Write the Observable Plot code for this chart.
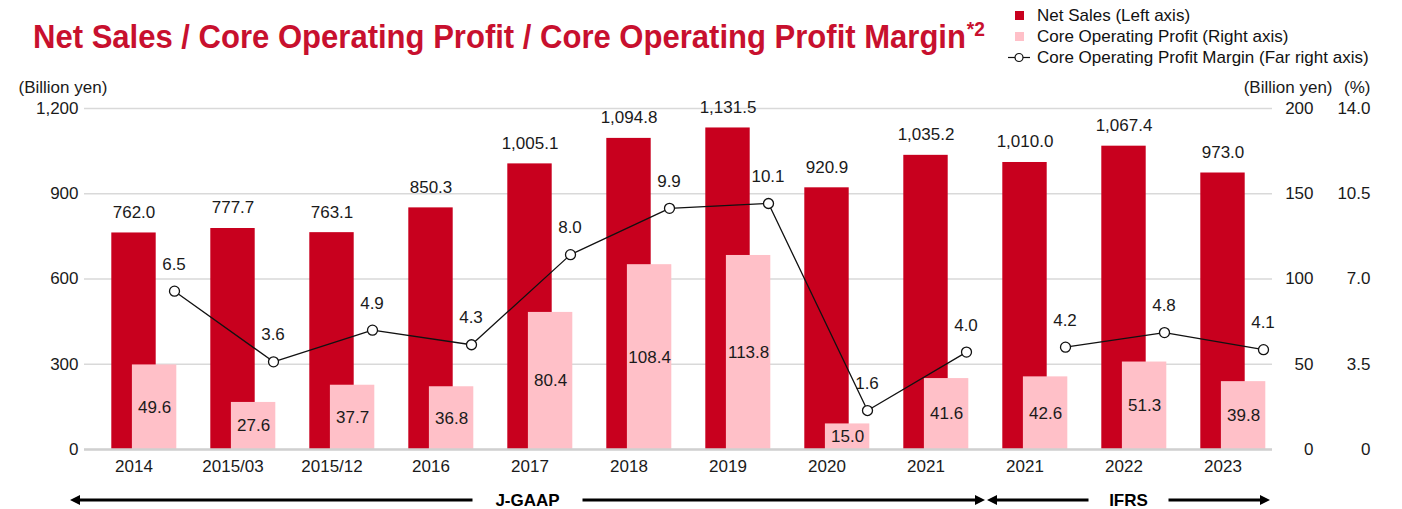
<!DOCTYPE html>
<html>
<head>
<meta charset="utf-8">
<script src="https://cdn.jsdelivr.net/npm/d3@7"></script>
<script src="https://cdn.jsdelivr.net/npm/@observablehq/plot@0.6"></script>
<style>
  body { margin: 0; background: #fff; font-family: "Liberation Sans", Arial, sans-serif; }
  #wrap { position: relative; width: 1402px; height: 509px; overflow: hidden; }
  #title { position: absolute; left: 33px; top: 16px; font-size: 34px; font-weight: bold; color: #c8102e;
           white-space: nowrap; transform-origin: 0 0; line-height: 40px; }
  #title sup { font-size: 21px; vertical-align: 0; position: relative; top: -12px; margin-left: 1px; }
  #legend { position: absolute; left: 1006px; top: 5px; font-size: 17px; color: #111; }
  .row { height: 21px; display: flex; align-items: center; white-space: nowrap; }
  .icon { width: 26px; height: 21px; margin-right: 5px; position: relative; }
  #chart { position: absolute; left: 0; top: 72px; }
</style>
</head>
<body>
<div id="wrap">
  <div id="title"><span id="ttext">Net Sales / Core Operating Profit / Core Operating Profit Margin</span><sup>*2</sup></div>
  <div id="legend"></div>
  <div id="chart"></div>
</div>
<script>
// ---- data ----
const periods = ["2014", "2015/03", "2015/12", "2016", "2017", "2018", "2019", "2020", "2021", "2021", "2022", "2023"];
const basis = ["J-GAAP", "J-GAAP", "J-GAAP", "J-GAAP", "J-GAAP", "J-GAAP", "J-GAAP", "J-GAAP", "J-GAAP", "IFRS", "IFRS", "IFRS"];
const netSales = [762.0, 777.7, 763.1, 850.3, 1005.1, 1094.8, 1131.5, 920.9, 1035.2, 1010.0, 1067.4, 973.0];
const coreProfit = [49.6, 27.6, 37.7, 36.8, 80.4, 108.4, 113.8, 15.0, 41.6, 42.6, 51.3, 39.8];
const profitMargin = [6.5, 3.6, 4.9, 4.3, 8.0, 9.9, 10.1, 1.6, 4.0, 4.2, 4.8, 4.1];
const leftTicks = [0, 300, 600, 900, 1200];
const rightMax = 200;      // Billion yen (right axis)
const farRightMax = 14.0;  // % (far right axis)
const leftMax = 1200;
const seriesNames = ["Net Sales (Left axis)", "Core Operating Profit (Right axis)", "Core Operating Profit Margin (Far right axis)"];

const RED = "#c8001e", PINK = "#ffc0c8";
const kProfit = leftMax / rightMax, kMargin = leftMax / farRightMax;
const rows = periods.map((p, i) => ({i, period: p, basis: basis[i], sales: netSales[i], profit: coreProfit[i], margin: profitMargin[i]}));
const fmt1 = d3.format(",.1f");

// ---- legend ----
const legend = document.getElementById("legend");
legend.innerHTML = `
 <div class="row"><div class="icon"><div style="position:absolute;left:9px;top:6px;width:9px;height:9px;background:${RED}"></div></div>${seriesNames[0]}</div>
 <div class="row"><div class="icon"><div style="position:absolute;left:9px;top:6px;width:9px;height:9px;background:${PINK}"></div></div>${seriesNames[1]}</div>
 <div class="row"><div class="icon"><svg width="26" height="21" style="position:absolute;left:0;top:0"><line x1="2" x2="24" y1="10.5" y2="10.5" stroke="#111" stroke-width="1.2"/><circle cx="13" cy="10.5" r="4" fill="#fff" stroke="#111" stroke-width="1.2"/></svg></div>${seriesNames[2]}</div>`;

// ---- chart ----
const ff = '"Liberation Sans", Arial, sans-serif';
const chart = Plot.plot({
  width: 1402, height: 437,
  marginTop: 36, marginBottom: 60, marginLeft: 84, marginRight: 130,
  style: {fontFamily: ff, fontSize: "17px", color: "#1a1a1a", background: "#fff", overflow: "visible"},
  x: {type: "band", domain: d3.range(periods.length), padding: 0},
  y: {domain: [0, leftMax]},
  marks: [
    Plot.gridY(leftTicks, {stroke: "#d9d9d9", strokeOpacity: 1, strokeWidth: 1.3}),
    Plot.axisY(leftTicks, {tickSize: 0, tickPadding: 6, tickFormat: d3.format(","), label: null}),
    Plot.axisY(leftTicks, {anchor: "right", tickSize: 0, tickPadding: 0, textAnchor: "end", dx: 41,
      tickFormat: d => String(d / kProfit), label: null}),
    Plot.axisY(leftTicks, {anchor: "right", tickSize: 0, tickPadding: 0, textAnchor: "end", dx: 98,
      tickFormat: d => d === 0 ? "0" : (d / kMargin).toFixed(1), label: null}),
    Plot.axisX({tickSize: 0, tickPadding: 10, tickFormat: i => periods[i], label: null}),
    Plot.barY(rows, {x: "i", y: "sales", fill: RED, insetLeft: 27.3, insetRight: 27.3}),
    Plot.barY(rows, {x: "i", y: d => d.profit * kProfit, fill: PINK, insetLeft: 47.9, insetRight: 6.7}),
    Plot.ruleY([0], {stroke: "#d0d0d0", strokeWidth: 2.5}),
    Plot.text(rows, {x: "i", y: "sales", text: d => fmt1(d.sales), dy: -20.5, fill: "#1a1a1a"}),
    Plot.text(rows, {x: "i", y: d => d.profit * kProfit / 2, text: d => fmt1(d.profit), dx: 20.6, fill: "#1a1a1a"}),
    Plot.line(rows, {x: "i", y: d => d.margin * kMargin, z: "basis", stroke: "#111", strokeWidth: 1.3, dx: 40.5}),
    Plot.dot(rows, {x: "i", y: d => d.margin * kMargin, r: 5, fill: "#fff", stroke: "#111", strokeWidth: 1.3, dx: 40.5}),
    Plot.text(rows, {x: "i", y: d => d.margin * kMargin, text: d => d.margin.toFixed(1), dx: 40, dy: -27, fill: "#1a1a1a"}),
    Plot.text(["(Billion yen)"], {frameAnchor: "top-left", textAnchor: "start", dx: -66, dy: -21, lineAnchor: "middle", fill: "#1a1a1a"}),
    Plot.text(["(Billion yen)"], {frameAnchor: "top-right", textAnchor: "end", dx: 60, dy: -21, lineAnchor: "middle", fill: "#1a1a1a"}),
    Plot.text(["(%)"], {frameAnchor: "top-right", textAnchor: "end", dx: 98, dy: -21, lineAnchor: "middle", fill: "#1a1a1a"})
  ]
});
document.getElementById("chart").appendChild(chart);

// ---- accounting-standard arrows under the axis ----
const xs = chart.scale("x");
const bw = xs.bandwidth;
const svg = d3.select(chart);
const ay = 428;
const firstIfrs = basis.indexOf("IFRS");
const boundary = xs.apply(firstIfrs) + 11;
const spans = [
  {label: "J-GAAP", x0: xs.apply(0) - 14, x1: boundary - 1, gap: 55},
  {label: "IFRS", x0: boundary + 1, x1: xs.apply(periods.length - 1) + bw - 2, gap: 40}
];
const g = svg.append("g");
for (const s of spans) {
  const mid = (s.x0 + s.x1) / 2;
  g.append("line").attr("x1", s.x0 + 8).attr("x2", mid - s.gap).attr("y1", ay).attr("y2", ay).attr("stroke", "#000").attr("stroke-width", 3);
  g.append("line").attr("x1", mid + s.gap).attr("x2", s.x1 - 8).attr("y1", ay).attr("y2", ay).attr("stroke", "#000").attr("stroke-width", 3);
  g.append("path").attr("d", `M${s.x0},${ay}L${s.x0 + 10},${ay - 5}L${s.x0 + 10},${ay + 5}Z`).attr("fill", "#000");
  g.append("path").attr("d", `M${s.x1},${ay}L${s.x1 - 10},${ay - 5}L${s.x1 - 10},${ay + 5}Z`).attr("fill", "#000");
  g.append("text").attr("x", mid).attr("y", ay).attr("dy", "0.35em").attr("text-anchor", "middle")
    .attr("font-weight", "bold").attr("font-size", 17).attr("font-family", ff).attr("fill", "#000").text(s.label);
}

// ---- fit title width ----
const title = document.getElementById("title");
const w = title.getBoundingClientRect().width;
title.style.transform = `scaleX(${952 / w})`;
</script>
</body>
</html>
